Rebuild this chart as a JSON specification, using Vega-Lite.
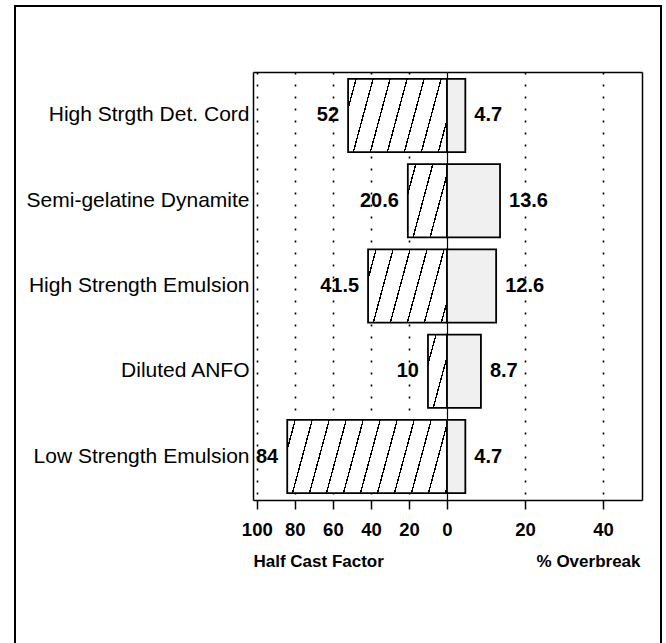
{
  "$schema": "https://vega.github.io/schema/vega-lite/v6.json",
  "width": 646,
  "height": 640,
  "padding": {"left": 15, "top": 6, "right": 5, "bottom": 0},
  "autosize": {"type": "none"},
  "background": "white",
  "config": {
    "view": {"stroke": "black", "strokeWidth": 2},
    "font": "Liberation Sans",
    "axis": {
      "labelColor": "black", "titleColor": "black", "domainColor": "black", "tickColor": "black",
      "labelFont": "Liberation Sans", "titleFont": "Liberation Sans",
      "domainWidth": 1.5, "tickWidth": 1.5, "labelFlush": false, "labelOverlap": false
    }
  },
  "data": {
    "values": [
      {"explosive": "High Strgth Det. Cord", "hcf": 52, "ob": 4.7},
      {"explosive": "Semi-gelatine Dynamite", "hcf": 20.6, "ob": 13.6},
      {"explosive": "High Strength Emulsion", "hcf": 41.5, "ob": 12.6},
      {"explosive": "Diluted ANFO", "hcf": 10, "ob": 8.7},
      {"explosive": "Low Strength Emulsion", "hcf": 84, "ob": 4.7}
    ]
  },
  "resolve": {"scale": {"x": "independent"}, "axis": {"x": "independent", "y": "independent"}},
  "layer": [
    {
      "mark": {"type": "text", "align": "right", "baseline": "middle", "dx": -9, "fontSize": 20, "fontWeight": "bold", "font": "Liberation Sans", "color": "black"},
      "encoding": {
        "y": {"field": "explosive", "type": "nominal", "sort": null,
              "scale": {"range": [66, 494], "paddingInner": 0.14, "paddingOuter": 0.08}, "axis": null},
        "x": {"field": "hcf", "type": "quantitative",
              "scale": {"domain": [0, 102], "range": [432, 238], "nice": false, "zero": true},
              "axis": {"orient": "top", "offset": -66, "labels": false, "ticks": false, "title": null, "domain": true,
                       "values": [0, 20, 40, 60, 80, 100],
                       "grid": true, "gridColor": "black",
                       "gridDash": {"condition": {"test": "datum.value === 0", "value": []}, "value": [2, 10]},
                       "gridWidth": {"condition": {"test": "datum.value === 0", "value": 1.2}, "value": 1.6}}},
        "text": {"field": "hcf", "type": "quantitative", "format": "~g"}
      }
    },
    {
      "mark": {"type": "text", "align": "left", "baseline": "middle", "dx": 9, "fontSize": 20, "fontWeight": "bold", "font": "Liberation Sans", "color": "black"},
      "encoding": {
        "y": {"field": "explosive", "type": "nominal", "sort": null,
              "scale": {"range": [66, 494], "paddingInner": 0.14, "paddingOuter": 0.08}, "axis": null},
        "x": {"field": "ob", "type": "quantitative",
              "scale": {"domain": [0, 50], "range": [432, 627], "nice": false, "zero": true},
              "axis": {"orient": "top", "offset": -66, "labels": false, "ticks": false, "title": null, "domain": true,
                       "values": [20, 40], "grid": true, "gridColor": "black", "gridDash": [2, 10], "gridWidth": 1.6}},
        "text": {"field": "ob", "type": "quantitative", "format": "~g"}
      }
    },
    {
      "mark": {"type": "bar", "stroke": "black", "strokeWidth": 1.8},
      "encoding": {
        "y": {
          "field": "explosive", "type": "nominal", "sort": null,
          "scale": {"range": [66, 494], "paddingInner": 0.14, "paddingOuter": 0.08},
          "axis": {"orient": "left", "offset": -238, "title": null, "ticks": false, "labelPadding": 4,
                   "labelFontSize": 21, "labelLimit": 400, "grid": false, "domain": true}
        },
        "x": {
          "field": "hcf", "type": "quantitative",
          "scale": {"domain": [0, 102], "range": [432, 238], "nice": false, "zero": true},
          "axis": {
            "orient": "bottom", "offset": -146, "values": [0, 20, 40, 60, 80, 100],
            "tickSize": 9, "labelPadding": 11.5, "labelFontSize": 18.5, "labelFontWeight": "bold",
            "grid": false,
            "title": "Half Cast Factor", "titleFontSize": 17, "titleFontWeight": "bold",
            "titleX": 238, "titleY": 61, "titleAlign": "left", "titleBaseline": "middle"
          }
        },
        "fill": {
          "condition": [
            {"test": "datum.explosive === 'High Strgth Det. Cord'", "value": {"gradient": "linear", "x1": 0, "y1": 0, "x2": 1.1539, "y2": 0.2309, "stops": [
              {"offset": 0, "color": "white"},
              {"offset": 0.0615, "color": "white"}, {"offset": 0.0615, "color": "black"}, {"offset": 0.0733, "color": "black"}, {"offset": 0.0733, "color": "white"},
              {"offset": 0.2047, "color": "white"}, {"offset": 0.2047, "color": "black"}, {"offset": 0.2165, "color": "black"}, {"offset": 0.2165, "color": "white"},
              {"offset": 0.3480, "color": "white"}, {"offset": 0.3480, "color": "black"}, {"offset": 0.3598, "color": "black"}, {"offset": 0.3598, "color": "white"},
              {"offset": 0.4912, "color": "white"}, {"offset": 0.4912, "color": "black"}, {"offset": 0.5030, "color": "black"}, {"offset": 0.5030, "color": "white"},
              {"offset": 0.6344, "color": "white"}, {"offset": 0.6344, "color": "black"}, {"offset": 0.6462, "color": "black"}, {"offset": 0.6462, "color": "white"},
              {"offset": 0.7777, "color": "white"}, {"offset": 0.7777, "color": "black"}, {"offset": 0.7895, "color": "black"}, {"offset": 0.7895, "color": "white"},
              {"offset": 0.9209, "color": "white"}, {"offset": 0.9209, "color": "black"}, {"offset": 0.9327, "color": "black"}, {"offset": 0.9327, "color": "white"},
              {"offset": 1, "color": "white"}
            ]}},
            {"test": "datum.explosive === 'Semi-gelatine Dynamite'", "value": {"gradient": "linear", "x1": 0, "y1": 0, "x2": 1.1993, "y2": 0.6054, "stops": [
              {"offset": 0, "color": "white"},
              {"offset": 0.1237, "color": "white"}, {"offset": 0.1237, "color": "black"}, {"offset": 0.1475, "color": "black"}, {"offset": 0.1475, "color": "white"},
              {"offset": 0.4119, "color": "white"}, {"offset": 0.4119, "color": "black"}, {"offset": 0.4357, "color": "black"}, {"offset": 0.4357, "color": "white"},
              {"offset": 0.7001, "color": "white"}, {"offset": 0.7001, "color": "black"}, {"offset": 0.7239, "color": "black"}, {"offset": 0.7239, "color": "white"},
              {"offset": 1, "color": "white"}
            ]}},
            {"test": "datum.explosive === 'High Strength Emulsion'", "value": {"gradient": "linear", "x1": 0, "y1": 0, "x2": 1.1768, "y2": 0.2952, "stops": [
              {"offset": 0, "color": "white"},
              {"offset": 0.0740, "color": "white"}, {"offset": 0.0740, "color": "black"}, {"offset": 0.0882, "color": "black"}, {"offset": 0.0882, "color": "white"},
              {"offset": 0.2462, "color": "white"}, {"offset": 0.2462, "color": "black"}, {"offset": 0.2604, "color": "black"}, {"offset": 0.2604, "color": "white"},
              {"offset": 0.4185, "color": "white"}, {"offset": 0.4185, "color": "black"}, {"offset": 0.4327, "color": "black"}, {"offset": 0.4327, "color": "white"},
              {"offset": 0.5907, "color": "white"}, {"offset": 0.5907, "color": "black"}, {"offset": 0.6049, "color": "black"}, {"offset": 0.6049, "color": "white"},
              {"offset": 0.7630, "color": "white"}, {"offset": 0.7630, "color": "black"}, {"offset": 0.7772, "color": "black"}, {"offset": 0.7772, "color": "white"},
              {"offset": 0.9352, "color": "white"}, {"offset": 0.9352, "color": "black"}, {"offset": 0.9494, "color": "black"}, {"offset": 0.9494, "color": "white"},
              {"offset": 1, "color": "white"}
            ]}},
            {"test": "datum.explosive === 'Diluted ANFO'", "value": {"gradient": "linear", "x1": 0, "y1": 0, "x2": 0.9793, "y2": 1.0200, "stops": [
              {"offset": 0, "color": "white"},
              {"offset": 0.1882, "color": "white"}, {"offset": 0.1882, "color": "black"}, {"offset": 0.2242, "color": "black"}, {"offset": 0.2242, "color": "white"},
              {"offset": 0.6265, "color": "white"}, {"offset": 0.6265, "color": "black"}, {"offset": 0.6625, "color": "black"}, {"offset": 0.6625, "color": "white"},
              {"offset": 1, "color": "white"}
            ]}},
            {"test": "datum.explosive === 'Low Strength Emulsion'", "value": {"gradient": "linear", "x1": 0, "y1": 0, "x2": 1.1069, "y2": 0.1371, "stops": [
              {"offset": 0, "color": "white"},
              {"offset": 0.0406, "color": "white"}, {"offset": 0.0406, "color": "black"}, {"offset": 0.0484, "color": "black"}, {"offset": 0.0484, "color": "white"},
              {"offset": 0.1353, "color": "white"}, {"offset": 0.1353, "color": "black"}, {"offset": 0.1431, "color": "black"}, {"offset": 0.1431, "color": "white"},
              {"offset": 0.2300, "color": "white"}, {"offset": 0.2300, "color": "black"}, {"offset": 0.2378, "color": "black"}, {"offset": 0.2378, "color": "white"},
              {"offset": 0.3246, "color": "white"}, {"offset": 0.3246, "color": "black"}, {"offset": 0.3324, "color": "black"}, {"offset": 0.3324, "color": "white"},
              {"offset": 0.4193, "color": "white"}, {"offset": 0.4193, "color": "black"}, {"offset": 0.4271, "color": "black"}, {"offset": 0.4271, "color": "white"},
              {"offset": 0.5139, "color": "white"}, {"offset": 0.5139, "color": "black"}, {"offset": 0.5217, "color": "black"}, {"offset": 0.5217, "color": "white"},
              {"offset": 0.6086, "color": "white"}, {"offset": 0.6086, "color": "black"}, {"offset": 0.6164, "color": "black"}, {"offset": 0.6164, "color": "white"},
              {"offset": 0.7033, "color": "white"}, {"offset": 0.7033, "color": "black"}, {"offset": 0.7111, "color": "black"}, {"offset": 0.7111, "color": "white"},
              {"offset": 0.7979, "color": "white"}, {"offset": 0.7979, "color": "black"}, {"offset": 0.8057, "color": "black"}, {"offset": 0.8057, "color": "white"},
              {"offset": 0.8926, "color": "white"}, {"offset": 0.8926, "color": "black"}, {"offset": 0.9004, "color": "black"}, {"offset": 0.9004, "color": "white"},
              {"offset": 0.9872, "color": "white"}, {"offset": 0.9872, "color": "black"}, {"offset": 0.9950, "color": "black"}, {"offset": 0.9950, "color": "white"},
              {"offset": 1, "color": "white"}
            ]}}
          ],
          "value": "white"
        }
      }
    },
    {
      "mark": {"type": "bar", "stroke": "black", "strokeWidth": 1.8, "fill": "#f0f0f0"},
      "encoding": {
        "y": {"field": "explosive", "type": "nominal", "sort": null,
              "scale": {"range": [66, 494], "paddingInner": 0.14, "paddingOuter": 0.08},
              "axis": {"orient": "right", "offset": -19, "labels": false, "ticks": false, "grid": false, "title": null, "domain": true}},
        "x": {
          "field": "ob", "type": "quantitative",
          "scale": {"domain": [0, 50], "range": [432, 627], "nice": false, "zero": true},
          "axis": {
            "orient": "bottom", "offset": -146, "values": [20, 40],
            "tickSize": 9, "labelPadding": 11.5, "labelFontSize": 18.5, "labelFontWeight": "bold",
            "grid": false,
            "title": "% Overbreak", "titleFontSize": 17, "titleFontWeight": "bold",
            "titleX": 625, "titleY": 61, "titleAlign": "right", "titleBaseline": "middle"
          }
        }
      }
    }
  ]
}
